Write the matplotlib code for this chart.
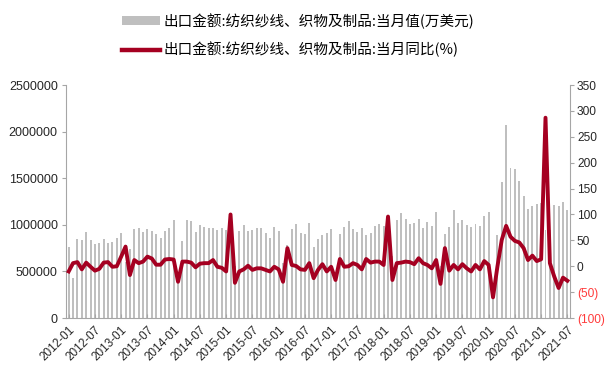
import matplotlib
matplotlib.use("Agg")
import matplotlib.pyplot as plt
from matplotlib.lines import Line2D
from matplotlib.patches import Patch
import numpy as np

plt.rcParams['font.family'] = ['Liberation Sans', 'Noto Sans CJK SC', 'DejaVu Sans']

# monthly data, 2012-01 .. 2021-07
months = [f"{y}-{m:02d}" for y in range(2012, 2022) for m in range(1, 13)][:115]

export_value = [
    767000, 430000, 846000, 839000, 921000, 839000, 796000, 803000, 846000, 807000, 814000, 857000,
    910000, 600000, 742000, 957000, 968000, 921000, 957000, 931000, 903000, 857000, 939000, 971000,
    1050000, 425000, 828000, 1050000, 1043000, 921000, 1000000, 982000, 964000, 964000, 946000, 964000,
    950000, 840000, 563000, 939000, 1000000, 939000, 946000, 964000, 964000, 917000, 864000, 979000,
    939000, 590000, 785000, 957000, 1011000, 917000, 903000, 1018000, 763000, 853000, 892000, 910000,
    957000, 435000, 900000, 975000, 1043000, 957000, 928000, 968000, 892000, 910000, 993000, 1011000,
    993000, 846000, 665000, 1054000, 1122000, 1061000, 1011000, 1022000, 1061000, 968000, 1032000, 989000,
    1133000, 558000, 900000, 979000, 1161000, 1022000, 1054000, 997000, 979000, 1011000, 993000, 1097000,
    1133000, 245000, 890000, 1459000, 2072000, 1613000, 1599000, 1466000, 1312000, 1165000, 1197000, 1226000,
    1230000, 950000, 945000, 1215000, 1204000, 1240000, 1161000,
]

export_yoy = [
    -10, 6, 8, -6, 7, -1, -8.5, -5, 7, 8, -1, 0,
    18.6, 38, -17, 12, 6, 9, 18.6, 15, 3, 3, 13, 14,
    13, -30, 9, 9, 7, -2, 5, 6, 6, 12, -1, -3,
    -10, 100, -32, -10, -6, 1, -7, -4, -4, -7, -10, -1,
    -6, -30, 35, 2.5, 0.5, -6, -7, 6, -23, -7, 4, -10,
    -1, -26.5, 14, -1, 0, 6, 2.5, -6, 14, 7, 9, 9,
    2.5, 96, -26.5, 6, 7, 9, 8, 4, 15.5, 6, 2.5, -4,
    12, -34, 35, -8.5, 2.5, -6, 4, -4, -10, 2.5, -6, 10,
    2.5, -60, -1, 51, 78, 57, 49, 46, 35, 12, 20.5, 10,
    13.5, 287, 6, -20, -42, -22, -28,
]

left_ticks = [0, 500000, 1000000, 1500000, 2000000, 2500000]
right_ticks = [-100, -50, 0, 50, 100, 150, 200, 250, 300, 350]
right_labels = ["(100)", "(50)", "0", "50", "100", "150", "200", "250", "300", "350"]

label_bar = "出口金额:纺织纱线、织物及制品:当月值(万美元)"
label_line = "出口金额:纺织纱线、织物及制品:当月同比(%)"

bar_color = "#BFBFBF"
line_color = "#A50021"
spine_color = "#A6A6A6"

fig = plt.figure(figsize=(6.06, 3.70), dpi=100)
ax = fig.add_axes([0.109, 0.1405, 0.8316, 0.6295])
x = np.arange(len(months))
ax.bar(x, export_value, width=0.45, color=bar_color, zorder=1)
ax.set_ylim(0, 2500000)
ax.set_yticks(left_ticks)
ax.set_yticklabels([str(v) for v in left_ticks])
ax.set_xlim(-0.6, len(months) - 0.4)

ax2 = ax.twinx()
ax2.plot(x, export_yoy, color=line_color, lw=2.8, zorder=3, solid_joinstyle='round')
ax2.set_ylim(-100, 350)
ax2.set_yticks(right_ticks)
ax2.set_yticklabels(right_labels)
for lab, v in zip(ax2.get_yticklabels(), right_ticks):
    lab.set_color("#FF3B3B" if v < 0 else "#262626")

tick_pos = x[::6]
ax.set_xticks(tick_pos)
ax.set_xticklabels([months[i] for i in tick_pos], rotation=45, ha='right',
                   rotation_mode='anchor', fontsize=8.5, color="#262626")
ax.tick_params(axis='x', direction='in', length=3, color=spine_color, pad=4)
ax.tick_params(axis='y', direction='out', length=3, color=spine_color,
               labelsize=9, labelcolor="#262626", pad=3)
ax2.tick_params(axis='y', direction='out', length=3, color=spine_color,
                labelsize=8.6, pad=2)

for a in (ax, ax2):
    a.spines['top'].set_visible(False)
    for s in ('left', 'right', 'bottom'):
        a.spines[s].set_color(spine_color)
        a.spines[s].set_linewidth(0.8)
ax.spines['right'].set_visible(False)
ax2.spines['left'].set_visible(False)
ax2.spines['bottom'].set_visible(False)

handles = [Patch(facecolor=bar_color, edgecolor='none', label=label_bar),
           Line2D([0], [0], color=line_color, lw=3.2, label=label_line)]
fig.legend(handles=handles, loc='upper center', bbox_to_anchor=(0.492, 1.0),
           ncol=1, frameon=False, handlelength=2.6,
           handleheight=0.6, labelspacing=0.9, handletextpad=0.2,
           prop={'family': ['Noto Sans CJK SC', 'DejaVu Sans'], 'size': 10.5})

fig.savefig("out.png", dpi=100)
